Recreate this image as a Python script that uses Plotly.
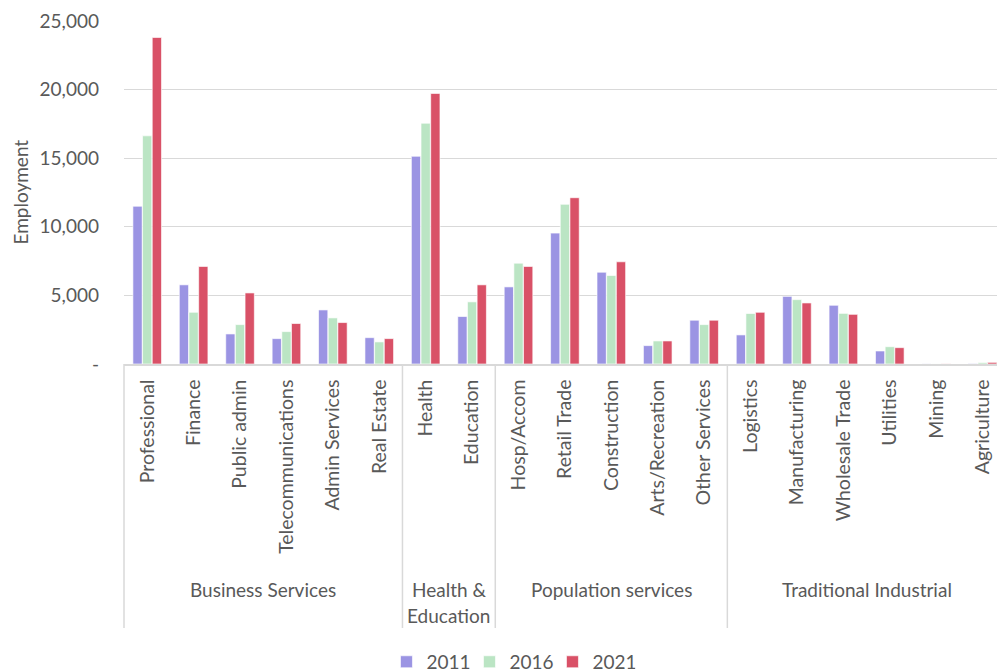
import plotly.graph_objects as go

# Industry categories, grouped by sector
groups = ["Business Services", "Health &<br>Education", "Population services", "Traditional Industrial"]
group_sizes = [6, 2, 5, 6]
industries = [
    "Professional", "Finance", "Public admin", "Telecommunications", "Admin Services", "Real Estate",
    "Health", "Education",
    "Hosp/Accom", "Retail Trade", "Construction", "Arts/Recreation", "Other Services",
    "Logistics", "Manufacturing", "Wholesale Trade", "Utilities", "Mining", "Agriculture",
]

years = ["2011", "2016", "2021"]
emp_2011 = [11500, 5770, 2190, 1850, 3940, 1920, 15140, 3460, 5620, 9540, 6690, 1340, 3190,
            2120, 4930, 4280, 950, 10, 30]
emp_2016 = [16630, 3770, 2870, 2360, 3360, 1610, 17550, 4530, 7350, 11640, 6450, 1680, 2870,
            3680, 4690, 3690, 1260, 5, 100]
emp_2021 = [23800, 7110, 5180, 2950, 3020, 1850, 19720, 5770, 7110, 12120, 7450, 1680, 3190,
            3770, 4450, 3620, 1190, 10, 120]
series = [emp_2011, emp_2016, emp_2021]
colors = ["#9b94e3", "#bbe5c4", "#d95167"]

y_ticks = [0, 5000, 10000, 15000, 20000, 25000]
y_ticktext = ["-" if v == 0 else f"{v:,}" for v in y_ticks]

FONT = "Lato"
TXT = "#595959"
GRID = "#d9d9d9"

W, H = 997, 672
ML, MT, MB = 124, 21, 308
plot_h = H - MT - MB

# visible category window (last category runs past the right edge)
x_min, x_max = -0.5, 18.31

fig = go.Figure()
for name, vals, col in zip(years, series, colors):
    fig.add_trace(go.Bar(
        x=industries, y=vals, name=name,
        marker=dict(color=col, line=dict(color="rgba(255,255,255,0.8)", width=0.8)),
    ))

def to_paper(xv):
    return (xv - x_min) / (x_max - x_min)

shapes = []
annotations = []
depth = -(628 - (H - MB)) / plot_h
start = 0
for g, n in zip(groups, group_sizes):
    left = start - 0.5
    shapes.append(dict(type="line", xref="paper", yref="paper",
                       x0=to_paper(left), x1=to_paper(left), y0=0, y1=depth,
                       line=dict(color=GRID, width=1.5)))
    centre = start + (n - 1) / 2
    for k, line in enumerate(g.split("<br>")):
        annotations.append(dict(text=line, xref="x", yref="paper", x=centre, y=0,
                                xanchor="center", yanchor="middle", yshift=-225 - 26 * k,
                                showarrow=False, font=dict(family=FONT, size=19, color=TXT)))
    start += n

annotations.append(dict(text="Employment", xref="paper", yref="paper", x=0, y=0.5,
                        xanchor="center", yanchor="middle", xshift=-104, textangle=-90,
                        showarrow=False, font=dict(family=FONT, size=19, color=TXT)))

fig.update_layout(
    width=W, height=H, autosize=False,
    margin=dict(l=ML, r=0, t=MT, b=MB, pad=0),
    paper_bgcolor="white", plot_bgcolor="white",
    barmode="group", bargap=0.375, bargroupgap=0.04,
    font=dict(family=FONT, size=19, color=TXT),
    xaxis=dict(type="category", range=[x_min, x_max], tickangle=-90,
               showgrid=False, showline=True, linecolor=GRID, linewidth=1.5,
               ticks="", ticklabelstandoff=6,
               tickfont=dict(family=FONT, size=19.5, color=TXT)),
    yaxis=dict(range=[0, 25000], tickvals=y_ticks, ticktext=y_ticktext,
               showgrid=True, gridcolor=GRID, gridwidth=1.3, zeroline=False,
               showline=False, ticks="", ticklabelstandoff=24,
               tickfont=dict(family=FONT, size=19, color=TXT)),
    legend=dict(orientation="h", xref="container", yref="container",
                x=0.5125, y=0.015, xanchor="center", yanchor="middle",
                entrywidth=38, entrywidthmode="pixels",
                font=dict(family=FONT, size=19, color=TXT), traceorder="normal"),
    shapes=shapes, annotations=annotations,
)

fig.write_html("out.html")
